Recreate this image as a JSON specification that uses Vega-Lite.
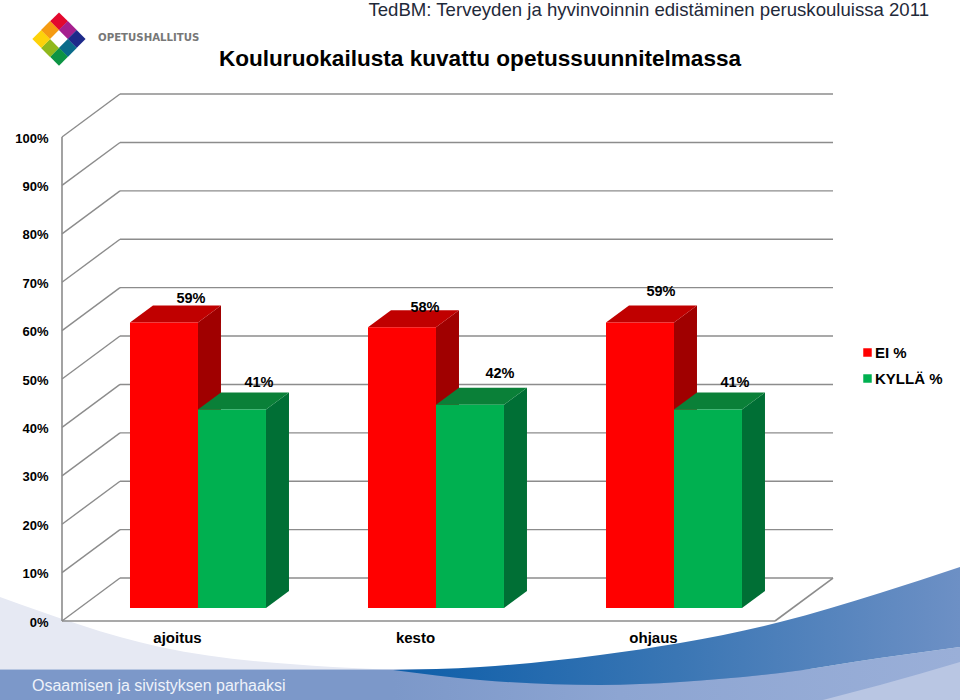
{
"$schema":"https://vega.github.io/schema/vega-lite/v6.json",
"width":960,"height":700,"padding":0,"autosize":{"type":"none"},"background":"white",
"config":{"view":{"stroke":null},"font":"Liberation Sans"},
"resolve":{"axis":{"x":"independent","y":"independent"}},
"title":{"text":"Kouluruokailusta kuvattu opetussuunnitelmassa","anchor":"middle","frame":"group","offset":-82,"baseline":"middle","font":"Liberation Sans","fontSize":22.6,"fontWeight":"bold","color":"#000000"},
"datasets":{
"arvot":[
{"kohde":"ajoitus","sarja":"EI %","arvo":59},{"kohde":"ajoitus","sarja":"KYLLÄ %","arvo":41},
{"kohde":"kesto","sarja":"EI %","arvo":58},{"kohde":"kesto","sarja":"KYLLÄ %","arvo":42},
{"kohde":"ohjaus","sarja":"EI %","arvo":59},{"kohde":"ohjaus","sarja":"KYLLÄ %","arvo":41}],
"tasot":[{"taso":0},{"taso":10},{"taso":20},{"taso":30},{"taso":40},{"taso":50},{"taso":60},{"taso":70},{"taso":80},{"taso":90},{"taso":100}],
"tausta":[
{"osa":"vaalea","x":-0.7437,"y":4.96,"y2":-10},{"osa":"vaalea","x":-0.0714,"y":-5.37,"y2":-10},{"osa":"vaalea","x":0.655,"y":-9.5,"y2":-10},{"osa":"vaalea","x":0.866,"y":-10,"y2":-10},
{"osa":"nauha","x":-0.7437,"y":-10,"y2":-16.32},{"osa":"nauha","x":3.2899,"y":-10,"y2":-16.32},
{"osa":"keski","x":0.9076,"y":-10.1,"y2":-16.32},{"osa":"keski","x":1.2731,"y":-12.19,"y2":-16.32},{"osa":"keski","x":1.7773,"y":-13.22,"y2":-16.32},{"osa":"keski","x":2.1134,"y":-12.6,"y2":-16.32},{"osa":"keski","x":2.5336,"y":-10.74,"y2":-16.32},{"osa":"keski","x":2.9538,"y":-7.64,"y2":-16.32},{"osa":"keski","x":3.2899,"y":-5.37,"y2":-16.32},
{"osa":"tumma","x":0.9076,"y":-10.1,"y2":-10.1},{"osa":"tumma","x":1.2731,"y":-9.5,"y2":-12.19},{"osa":"tumma","x":1.7773,"y":-7.02,"y2":-13.22},{"osa":"tumma","x":2.1134,"y":-4.55,"y2":-12.6},{"osa":"tumma","x":2.5336,"y":-0.21,"y2":-10.74},{"osa":"tumma","x":2.9538,"y":5.79,"y2":-7.64},{"osa":"tumma","x":3.2899,"y":11.16,"y2":-5.37},
{"osa":"haalea","x":2.7143,"y":-16.32,"y2":-16.32},{"osa":"haalea","x":2.9538,"y":-13.22,"y2":-16.32},{"osa":"haalea","x":3.2899,"y":-8.47,"y2":-16.32}],
"logo":[
{"ruutu":"a","x":-0.4958,"y":123.9},{"ruutu":"b","x":-0.4588,"y":122.11},{"ruutu":"c","x":-0.4218,"y":120.25},{"ruutu":"d","x":-0.4588,"y":118.39},{"ruutu":"e","x":-0.4958,"y":116.59},{"ruutu":"f","x":-0.5336,"y":118.39},{"ruutu":"g","x":-0.5702,"y":120.25},{"ruutu":"h","x":-0.5336,"y":122.11}]
},
"layer":[
{"data":{"name":"tausta"},"transform":[{"filter":"datum.osa==='vaalea'"}],
 "mark":{"type":"area","orient":"vertical","color":"#e6e9f3","interpolate":"monotone"},
 "encoding":{"x":{"field":"x","type":"quantitative","axis":null,"scale":{"domain":[-0.7437,3.2899],"nice":false,"zero":false}},
 "y":{"field":"y","type":"quantitative","stack":null,"axis":null,"scale":{"domain":[-16.32,128.31],"nice":false,"zero":false}},
 "y2":{"field":"y2"}}},
{"data":{"name":"tausta"},"transform":[{"filter":"datum.osa==='nauha'"}],
 "mark":{"type":"area","orient":"vertical","color":"#7c98c9"},
 "encoding":{"x":{"field":"x","type":"quantitative","axis":null,"scale":{"domain":[-0.7437,3.2899],"nice":false,"zero":false}},"y":{"field":"y","type":"quantitative","stack":null,"axis":null,"scale":{"domain":[-16.32,128.31],"nice":false,"zero":false}},"y2":{"field":"y2"}}},
{"data":{"name":"tausta"},"transform":[{"filter":"datum.osa==='keski'"}],
 "mark":{"type":"area","orient":"vertical","interpolate":"monotone","color":{"gradient":"linear","x1":0,"x2":1,"y1":0,"y2":0,"stops":[{"offset":0,"color":"#7c98c9"},{"offset":0.4,"color":"#8da5d2"},{"offset":1,"color":"#9aafd8"}]}},
 "encoding":{"x":{"field":"x","type":"quantitative","axis":null,"scale":{"domain":[-0.7437,3.2899],"nice":false,"zero":false}},"y":{"field":"y","type":"quantitative","stack":null,"axis":null,"scale":{"domain":[-16.32,128.31],"nice":false,"zero":false}},"y2":{"field":"y2"}}},
{"data":{"name":"tausta"},"transform":[{"filter":"datum.osa==='tumma'"}],
 "mark":{"type":"area","orient":"vertical","interpolate":"monotone","color":{"gradient":"linear","x1":0,"x2":1,"y1":0,"y2":0,"stops":[{"offset":0,"color":"#0d5ea9"},{"offset":0.5,"color":"#3a76b4"},{"offset":1,"color":"#6d90c5"}]}},
 "encoding":{"x":{"field":"x","type":"quantitative","axis":null,"scale":{"domain":[-0.7437,3.2899],"nice":false,"zero":false}},"y":{"field":"y","type":"quantitative","stack":null,"axis":null,"scale":{"domain":[-16.32,128.31],"nice":false,"zero":false}},"y2":{"field":"y2"}}},
{"data":{"name":"tausta"},"transform":[{"filter":"datum.osa==='haalea'"}],
 "mark":{"type":"area","orient":"vertical","color":"#b9c6e3","interpolate":"monotone"},
 "encoding":{"x":{"field":"x","type":"quantitative","axis":null,"scale":{"domain":[-0.7437,3.2899],"nice":false,"zero":false}},"y":{"field":"y","type":"quantitative","stack":null,"axis":null,"scale":{"domain":[-16.32,128.31],"nice":false,"zero":false}},"y2":{"field":"y2"}}},
{"data":{"name":"logo"},
 "transform":[{"calculate":"{a:'#e3092e',b:'#a5208e',c:'#1d2a8a',d:'#0a6b8a',e:'#0d9444',f:'#90b81c',g:'#fdd20a',h:'#f59b12'}[datum.ruutu]","as":"vari"}],
 "mark":{"type":"point","shape":"diamond","filled":true,"opacity":1,"size":320},
 "encoding":{"x":{"field":"x","type":"quantitative","axis":null,"scale":{"domain":[-0.7437,3.2899],"nice":false,"zero":false}},"y":{"field":"y","type":"quantitative","axis":null,"scale":{"domain":[-16.32,128.31],"nice":false,"zero":false}},
 "fill":{"field":"vari","type":"nominal","legend":null,"scale":null}}},
{"data":{"values":[{"teksti":"OPETUSHALLITUS","x":-0.3319,"y":120.45}]},
 "mark":{"type":"text","align":"left","baseline":"middle","font":"DejaVu Sans","fontWeight":"bold","fontSize":10.2,"color":"#777777"},
 "encoding":{"text":{"field":"teksti"},"x":{"field":"x","type":"quantitative","axis":null,"scale":{"domain":[-0.7437,3.2899],"nice":false,"zero":false}},"y":{"field":"y","type":"quantitative","axis":null,"scale":{"domain":[-16.32,128.31],"nice":false,"zero":false}}}},
{"data":{"values":[{"teksti":"TedBM: Terveyden ja hyvinvoinnin edistäminen peruskouluissa 2011","x":3.1597,"y":126.24}]},
 "mark":{"type":"text","align":"right","baseline":"middle","font":"Liberation Sans","fontSize":18.6,"color":"#1f2a3a"},
 "encoding":{"text":{"field":"teksti"},"x":{"field":"x","type":"quantitative","axis":null,"scale":{"domain":[-0.7437,3.2899],"nice":false,"zero":false}},"y":{"field":"y","type":"quantitative","axis":null,"scale":{"domain":[-16.32,128.31],"nice":false,"zero":false}}}},
{"data":{"values":[{"teksti":"Osaamisen ja sivistyksen parhaaksi","x":-0.6092,"y":-13.43}]},
 "mark":{"type":"text","align":"left","baseline":"middle","font":"Liberation Sans","fontSize":16,"color":"#eef2fa"},
 "encoding":{"text":{"field":"teksti"},"x":{"field":"x","type":"quantitative","axis":null,"scale":{"domain":[-0.7437,3.2899],"nice":false,"zero":false}},"y":{"field":"y","type":"quantitative","axis":null,"scale":{"domain":[-16.32,128.31],"nice":false,"zero":false}}}},
{"data":{"name":"tasot"},"transform":[{"calculate":"datum.taso+8.88","as":"taka"}],
 "mark":{"type":"rule","color":"#8c8c8c","strokeWidth":1.4},
 "encoding":{"x":{"datum":-0.2395,"type":"quantitative","axis":null,"scale":{"domain":[-0.7437,3.2899],"nice":false,"zero":false}},"x2":{"datum":2.7563},"y":{"field":"taka","type":"quantitative","axis":null,"scale":{"domain":[-16.32,128.31],"nice":false,"zero":false}}}},
{"data":{"name":"tasot"},"transform":[{"calculate":"datum.taso+8.88","as":"taka"}],
 "mark":{"type":"rule","color":"#8c8c8c","strokeWidth":1.4},
 "encoding":{"x":{"datum":-0.4832,"type":"quantitative","axis":null,"scale":{"domain":[-0.7437,3.2899],"nice":false,"zero":false}},"x2":{"datum":-0.2395},"y":{"field":"taso","type":"quantitative","axis":null,"scale":{"domain":[-16.32,128.31],"nice":false,"zero":false}},"y2":{"field":"taka"}}},
{"data":{"values":[{"x":-0.4832,"x2":-0.4832,"y":0,"y2":100,"k":"a"},{"x":-0.4832,"x2":2.5126,"y":0,"y2":0,"k":"b"},{"x":2.5126,"x2":2.7563,"y":0,"y2":8.88,"k":"c"}]},
 "mark":{"type":"rule","color":"#8c8c8c","strokeWidth":1.6},
 "encoding":{"x":{"field":"x","type":"quantitative","axis":null,"scale":{"domain":[-0.7437,3.2899],"nice":false,"zero":false}},"x2":{"field":"x2"},"y":{"field":"y","type":"quantitative","axis":null,"scale":{"domain":[-16.32,128.31],"nice":false,"zero":false}},"y2":{"field":"y2"}}},
{"data":{"name":"arvot"},
 "transform":[
 {"calculate":"indexof(['ajoitus','kesto','ohjaus'],datum.kohde)","as":"i"},
 {"calculate":"datum.sarja==='EI %'?0:1","as":"s"},
 {"calculate":"datum.i+0.0882+(datum.s-1)*0.2857","as":"x0"},
 {"calculate":"datum.x0+0.2857","as":"x1"},
 {"calculate":"2.686+datum.arvo","as":"huippu"},
 {"calculate":"[0,1]","as":"d"},{"flatten":["d"]},
 {"calculate":"datum.x1+datum.d*0.0966","as":"sx"},
 {"calculate":"datum.huippu+datum.d*3.51","as":"sy"},
 {"calculate":"2.686+datum.d*3.51","as":"sy2"},
 {"calculate":"datum.s===0?'#a00000':'#006f35'","as":"vari"},
 {"calculate":"datum.kohde+datum.sarja","as":"avain"}],
 "mark":{"type":"area","orient":"vertical"},
 "encoding":{"x":{"field":"sx","type":"quantitative","axis":null,"scale":{"domain":[-0.7437,3.2899],"nice":false,"zero":false}},"y":{"field":"sy","type":"quantitative","stack":null,"axis":null,"scale":{"domain":[-16.32,128.31],"nice":false,"zero":false}},"y2":{"field":"sy2"},"detail":{"field":"avain"},"fill":{"field":"vari","type":"nominal","scale":null,"legend":null}}},
{"data":{"name":"arvot"},
 "transform":[
 {"calculate":"indexof(['ajoitus','kesto','ohjaus'],datum.kohde)","as":"i"},
 {"calculate":"datum.sarja==='EI %'?0:1","as":"s"},
 {"calculate":"datum.i+0.0882+(datum.s-1)*0.2857","as":"x0"},
 {"calculate":"datum.x0+0.2857","as":"x1"},
 {"calculate":"2.686+datum.arvo","as":"huippu"},
 {"calculate":"[0,1]","as":"d"},{"flatten":["d"]},
 {"calculate":"datum.x0+datum.d*0.0966","as":"tx0"},
 {"calculate":"datum.x1+datum.d*0.0966","as":"tx1"},
 {"calculate":"datum.huippu+datum.d*3.51","as":"ty"},
 {"calculate":"datum.s===0?'#c00000':'#0a8038'","as":"vari"},
 {"calculate":"datum.kohde+datum.sarja","as":"avain"}],
 "mark":{"type":"area","orient":"horizontal"},
 "encoding":{"y":{"field":"ty","type":"quantitative","axis":null,"scale":{"domain":[-16.32,128.31],"nice":false,"zero":false}},"x":{"field":"tx0","type":"quantitative","stack":null,"axis":null,"scale":{"domain":[-0.7437,3.2899],"nice":false,"zero":false}},"x2":{"field":"tx1"},"detail":{"field":"avain"},"fill":{"field":"vari","type":"nominal","scale":null,"legend":null}}},
{"data":{"name":"arvot"},
 "transform":[
 {"calculate":"indexof(['ajoitus','kesto','ohjaus'],datum.kohde)","as":"i"},
 {"calculate":"datum.sarja==='EI %'?0:1","as":"s"},
 {"calculate":"datum.i+0.0882+(datum.s-1)*0.2857","as":"x0"},
 {"calculate":"datum.x0+0.2857","as":"x1"},
 {"calculate":"2.686+datum.arvo","as":"huippu"},
 {"calculate":"2.686","as":"pohja"}],
 "mark":{"type":"rect"},
 "encoding":{"x":{"field":"x0","type":"quantitative","scale":{"domain":[-0.7437,3.2899],"nice":false,"zero":false},"axis":{"values":[0,1,2],"orient":"bottom","offset":-70,"zindex":1,"domain":false,"ticks":false,"grid":false,"title":null,"labelExpr":"['ajoitus','kesto','ohjaus'][datum.value]","labelFont":"Liberation Sans","labelFontWeight":"bold","labelFontSize":15,"labelColor":"#000000","labelPadding":0,"labelBaseline":"top"}},"x2":{"field":"x1"},
 "y":{"field":"huippu","type":"quantitative","scale":{"domain":[-16.32,128.31],"nice":false,"zero":false},"axis":{"values":[0,10,20,30,40,50,60,70,80,90,100],"orient":"left","offset":-52,"zindex":1,"domain":false,"ticks":false,"grid":false,"title":null,"labelExpr":"datum.value+'%'","labelFont":"Liberation Sans","labelFontWeight":"bold","labelFontSize":13,"labelColor":"#000000","labelPadding":4,"labelOffset":1}},"y2":{"field":"pohja"},
 "color":{"field":"sarja","type":"nominal","sort":null,"scale":{"domain":["EI %","KYLLÄ %"],"range":["#ff0000","#00b050"]},
  "legend":{"title":null,"orient":"none","legendX":860,"legendY":345,"symbolType":"square","symbolSize":72,"symbolStrokeWidth":0,"labelFont":"Liberation Sans","labelFontWeight":"bold","labelFontSize":15,"labelColor":"#000000","labelOffset":0,"rowPadding":10,"padding":0}}}},
{"data":{"name":"arvot"},
 "transform":[
 {"calculate":"indexof(['ajoitus','kesto','ohjaus'],datum.kohde)","as":"i"},
 {"calculate":"datum.sarja==='EI %'?0:1","as":"s"},
 {"calculate":"2.686+datum.arvo","as":"huippu"},
 {"calculate":"datum.i+0.0882+[[-7,61],[-11,64],[-13,61]][datum.i][datum.s]/238","as":"lx"},
 {"calculate":"datum.huippu+[[5.17,5.79],[4.34,6.61],[6.61,5.79]][datum.i][datum.s]","as":"ly"},
 {"calculate":"datum.arvo+'%'","as":"osuus"}],
 "mark":{"type":"text","font":"Liberation Sans","fontWeight":"bold","fontSize":14.5,"color":"#000000","baseline":"middle","dy":1.5},
 "encoding":{"x":{"field":"lx","type":"quantitative","axis":null,"scale":{"domain":[-0.7437,3.2899],"nice":false,"zero":false}},"y":{"field":"ly","type":"quantitative","axis":null,"scale":{"domain":[-16.32,128.31],"nice":false,"zero":false}},"text":{"field":"osuus"}}}
]
}
